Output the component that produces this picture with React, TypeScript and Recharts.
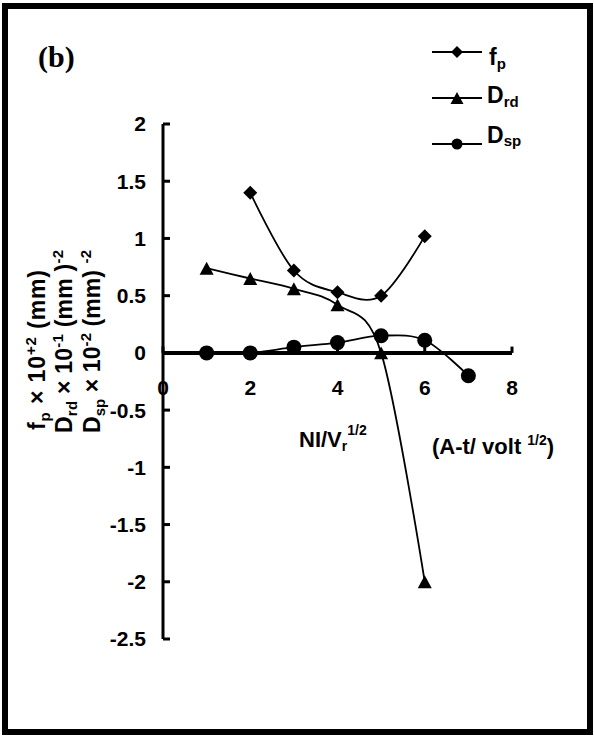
import React from 'react';
import {
  LineChart,
  Line,
  XAxis,
  YAxis,
  ReferenceLine,
  ReferenceDot,
  Legend
} from 'recharts';

const FONT = '"Liberation Sans", Arial, sans-serif';
const SERIF = '"Liberation Serif", "Times New Roman", serif';

// axis ticks
const xTicks = [0, 2, 4, 6, 8];
const yTicks = [-2.5, -2, -1.5, -1, -0.5, 0, 0.5, 1, 1.5, 2];

// series
const fpX = [2, 3, 4, 5, 6];
const fpY = [1.4, 0.72, 0.53, 0.5, 1.02];
const drdX = [1, 2, 3, 4, 5, 6];
const drdY = [0.74, 0.65, 0.56, 0.42, 0, -2.0];
const dspX = [1, 2, 3, 4, 5, 6, 7];
const dspY = [0, 0, 0.05, 0.09, 0.15, 0.11, -0.2];

const seriesKeys = ['fp', 'drd', 'dsp'];
const seriesBase = ['f', 'D', 'D'];
const seriesSub = ['p', 'rd', 'sp'];
const seriesMarker = ['diamond', 'triangle', 'circle'];

const toPoints = (xs: number[], ys: number[]) => xs.map((x, i) => ({ x, y: ys[i] }));

// Excel-like smoothed line (uniform Catmull-Rom / cardinal, tension 0)
function excelSmooth(context: any) {
  let x0 = NaN, y0 = NaN, x1 = NaN, y1 = NaN, x2 = NaN, y2 = NaN;
  let pt = 0;
  const k = 1 / 6;
  const seg = (x: number, y: number) => {
    context.bezierCurveTo(
      x1 + k * (x2 - x0), y1 + k * (y2 - y0),
      x2 + k * (x1 - x), y2 + k * (y1 - y),
      x2, y2
    );
  };
  return {
    areaStart() {},
    areaEnd() {},
    lineStart() {
      x0 = x1 = x2 = y0 = y1 = y2 = NaN;
      pt = 0;
    },
    lineEnd() {
      if (pt === 2) context.lineTo(x2, y2);
      else if (pt === 3) seg(x1, y1);
    },
    point(x: number, y: number) {
      x = +x;
      y = +y;
      if (pt === 0) {
        pt = 1;
        context.moveTo(x, y);
      } else if (pt === 1) {
        pt = 2;
        x1 = x;
        y1 = y;
      } else {
        pt = 3;
        seg(x, y);
      }
      x0 = x1; x1 = x2; x2 = x;
      y0 = y1; y1 = y2; y2 = y;
    }
  };
}

function markerShape(kind: string, cx: number, cy: number, s: number, key?: string) {
  if (kind === 'diamond') {
    return <path key={key} d={`M${cx},${cy - s}L${cx + s},${cy}L${cx},${cy + s}L${cx - s},${cy}Z`} fill="#000" />;
  }
  if (kind === 'triangle') {
    const h = s * 0.92;
    return <path key={key} d={`M${cx},${cy - h}L${cx + s},${cy + h}L${cx - s},${cy + h}Z`} fill="#000" />;
  }
  return <circle key={key} cx={cx} cy={cy} r={s} fill="#000" />;
}

const dotFor = (kind: string, s: number) => (props: any) =>
  markerShape(kind, props.cx, props.cy, s, `${kind}-${props.index}`);

const legendRows = [17, 63, 109];
const legendBaselines = [30, 68, 108];
const legendSubDy = [4, 4, 3];
const legendTextX = [64, 62, 62];
const legendMarkerSize = [6, 6.5, 5.5];

function LegendBox({ payload }: any) {
  const items = (payload || []).map((p: any) => seriesKeys.indexOf(p.value));
  return (
    <svg width={160} height={125} style={{ overflow: 'visible' }}>
      {items.map((i: number) => (
        <g key={seriesKeys[i]}>
          <line x1={7} x2={57} y1={legendRows[i]} y2={legendRows[i]} stroke="#000" strokeWidth={1.8} />
          {markerShape(seriesMarker[i], 32, legendRows[i], legendMarkerSize[i])}
          <text x={legendTextX[i]} y={legendBaselines[i]} fontFamily={FONT} fontWeight="bold" fontSize={23} fill="#000">
            {seriesBase[i]}
            <tspan fontSize={15} dy={legendSubDy[i]}>{seriesSub[i]}</tspan>
          </text>
        </g>
      ))}
    </svg>
  );
}

const labelStyle = { fontFamily: FONT, fontWeight: 'bold' as const, fill: '#000' };

export default function App() {
  return (
    <div style={{ position: 'absolute', left: 0, top: 0, width: 594, height: 736, background: '#fff' }}>
      <div
        style={{
          position: 'absolute',
          left: 2,
          top: 3,
          width: 591,
          height: 732,
          border: '6px solid #000',
          boxSizing: 'border-box'
        }}
      />
      <div style={{ position: 'absolute', left: 0, top: 0 }}>
        <LineChart width={594} height={736} margin={{ top: 124, right: 82, bottom: 97, left: 103 }}>
          <XAxis type="number" dataKey="x" domain={[0, 8]} ticks={xTicks} hide />
          <YAxis
            type="number"
            domain={[-2.5, 2]}
            ticks={yTicks}
            width={60}
            interval={0}
            axisLine={{ stroke: '#000', strokeWidth: 3 }}
            tickLine={{ stroke: '#000', strokeWidth: 3 }}
            tickSize={-7}
            tickMargin={24}
            tick={{ fill: '#000', fontSize: 21, fontWeight: 'bold', fontFamily: FONT }}
          />
          <ReferenceLine segment={[{ x: 0, y: 0 }, { x: 8, y: 0 }]} stroke="#000" strokeWidth={4} />
          {xTicks.map((t) => (
            <ReferenceLine key={`xt-${t}`} segment={[{ x: t, y: 0 }, { x: t, y: 0.055 }]} stroke="#000" strokeWidth={3} />
          ))}
          {xTicks.map((t) => (
            <ReferenceDot
              key={`xl-${t}`}
              x={t}
              y={0}
              r={0}
              fill="none"
              stroke="none"
              label={{ value: String(t), position: 'bottom', offset: 27, fontSize: 21, ...labelStyle }}
            />
          ))}
          <Legend
            verticalAlign="middle"
            align="center"
            layout="horizontal"
            content={<LegendBox />}
            wrapperStyle={{ left: 425, top: 35, width: 160, height: 125 }}
          />
          <Line
            name="fp"
            data={toPoints(fpX, fpY)}
            dataKey="y"
            type={excelSmooth as any}
            stroke="#000"
            strokeWidth={1.8}
            dot={dotFor('diamond', 7)}
            activeDot={false}
            isAnimationActive={false}
          />
          <Line
            name="drd"
            data={toPoints(drdX, drdY)}
            dataKey="y"
            type={excelSmooth as any}
            stroke="#000"
            strokeWidth={1.8}
            dot={dotFor('triangle', 7)}
            activeDot={false}
            isAnimationActive={false}
          />
          <Line
            name="dsp"
            data={toPoints(dspX, dspY)}
            dataKey="y"
            type={excelSmooth as any}
            stroke="#000"
            strokeWidth={1.8}
            dot={dotFor('circle', 7.5)}
            activeDot={false}
            isAnimationActive={false}
          />
        </LineChart>
      </div>
      <svg width={594} height={736} style={{ position: 'absolute', left: 0, top: 0, pointerEvents: 'none' }}>
        <text x={38} y={67} fontFamily={SERIF} fontWeight="bold" fontSize={30} fill="#000">(b)</text>

        <g transform="rotate(-90)" fontFamily={FONT} fontWeight="bold" fontSize={23} fill="#000">
          <text x={-430} y={45} textLength={160}>
            f<tspan fontSize={15} dy={5}>p</tspan>
            <tspan dy={-5}> × 10</tspan>
            <tspan fontSize={15} dy={-9}>+2</tspan>
            <tspan dy={9}> (mm)</tspan>
          </text>
          <text x={-433} y={72} textLength={183}>
            D<tspan fontSize={15} dy={5}>rd</tspan>
            <tspan dy={-5}>  × 10</tspan>
            <tspan fontSize={15} dy={-9}>-1</tspan>
            <tspan dy={9}> (mm )</tspan>
            <tspan fontSize={15} dy={-9}>-2</tspan>
          </text>
          <text x={-433} y={100} textLength={183}>
            D<tspan fontSize={15} dy={5}>sp</tspan>
            <tspan dy={-5}> × 10</tspan>
            <tspan fontSize={15} dy={-9}>-2</tspan>
            <tspan dy={9}> (mm) </tspan>
            <tspan fontSize={15} dy={-9}>-2</tspan>
          </text>
        </g>

        <text x={299} y={447} fontFamily={FONT} fontWeight="bold" fontSize={22} fill="#000">
          NI/V<tspan fontSize={14} dy={4}>r</tspan>
          <tspan fontSize={14} dy={-16}>1/2</tspan>
        </text>
        <text x={432} y={454} fontFamily={FONT} fontWeight="bold" fontSize={22} fill="#000">
          (A-t/ volt <tspan fontSize={14} dy={-9}>1/2</tspan>
          <tspan dy={9}>)</tspan>
        </text>
      </svg>
    </div>
  );
}
